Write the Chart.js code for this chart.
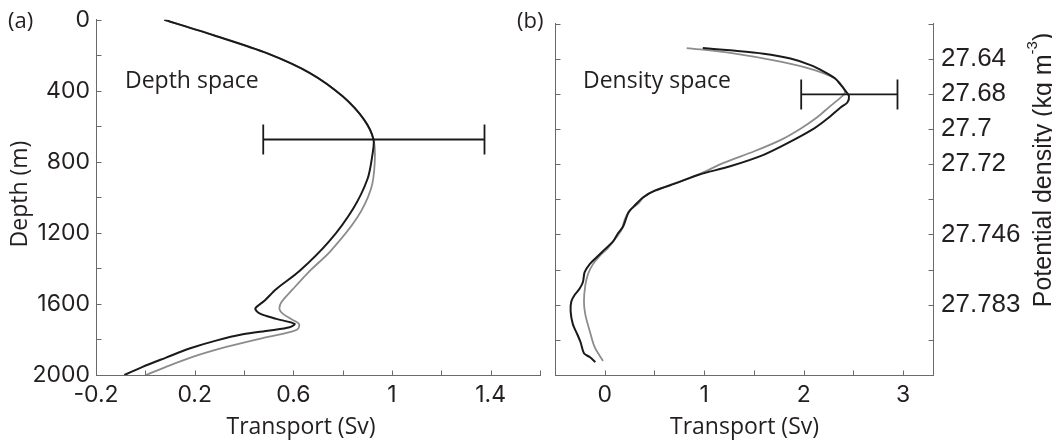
<!DOCTYPE html>
<html>
<head>
<meta charset="utf-8">
<script src="https://cdn.jsdelivr.net/npm/chart.js@4.4.1/dist/chart.umd.min.js"></script>
<style>
  html, body { margin: 0; padding: 0; background: #fff; }
  #wrap { position: relative; width: 1052px; height: 441px; overflow: hidden; }
  canvas { position: absolute; top: 0; }
  #cA { left: 0; }
  #cB { left: 505px; }
</style>
</head>
<body>
<div id="wrap">
  <canvas id="cA" width="548" height="441"></canvas>
  <canvas id="cB" width="547" height="441"></canvas>
</div>
<script>
// ---- (a) transport against depth (m) ----
const depthBlackA = [0, 87, 189, 301, 431, 561, 674, 765, 895, 1062, 1248, 1415, 1517, 1582, 1625, 1653, 1684, 1712, 1731, 1749, 1771, 1805, 1851, 1902, 1954, 2000];
const transportBlackA = [0.077, 0.277, 0.495, 0.669, 0.80, 0.886, 0.925, 0.92, 0.901, 0.843, 0.745, 0.625, 0.53, 0.483, 0.446, 0.463, 0.531, 0.605, 0.585, 0.504, 0.395, 0.29, 0.179, 0.084, -0.011, -0.085];
const depthGrayA = [0, 87, 189, 301, 431, 561, 674, 802, 951, 1118, 1304, 1415, 1517, 1592, 1629, 1656, 1690, 1712, 1740, 1759, 1796, 1842, 1898, 1954, 2000];
const transportGrayA = [0.077, 0.277, 0.495, 0.669, 0.80, 0.886, 0.925, 0.93, 0.915, 0.857, 0.75, 0.666, 0.598, 0.551, 0.544, 0.558, 0.598, 0.623, 0.619, 0.585, 0.463, 0.328, 0.192, 0.084, 0.003];
const errDepthA = 674;
const errLowA = 0.478;
const errHighA = 1.375;

// ---- (b) transport against potential density (stretched density coordinate 0-2000) ----
const levelBlackB = [139, 152, 171, 199, 236, 273, 310, 347, 384, 412, 449, 477, 542, 598, 672, 747, 812, 860, 904, 951, 988, 1034, 1072, 1118, 1155, 1192, 1239, 1285, 1331, 1369, 1415, 1471, 1508, 1545, 1582, 1638, 1712, 1768, 1815, 1876, 1898, 1926];
const transportBlackB = [0.986, 1.261, 1.597, 1.867, 2.069, 2.203, 2.311, 2.371, 2.422, 2.455, 2.439, 2.371, 2.237, 2.102, 1.867, 1.597, 1.261, 0.945, 0.74, 0.505, 0.387, 0.303, 0.242, 0.209, 0.185, 0.135, 0.084, 0.0, -0.084, -0.151, -0.202, -0.219, -0.252, -0.303, -0.336, -0.343, -0.32, -0.276, -0.242, -0.209, -0.151, -0.094];
const levelGrayB = [139, 167, 217, 264, 310, 357, 394, 421, 468, 533, 598, 663, 728, 793, 860, 904, 951, 988, 1025, 1062, 1118, 1174, 1229, 1276, 1322, 1369, 1425, 1489, 1582, 1656, 1749, 1842, 1920];
const transportGrayB = [0.824, 1.261, 1.766, 2.102, 2.304, 2.389, 2.415, 2.371, 2.27, 2.136, 1.968, 1.766, 1.497, 1.194, 0.94, 0.73, 0.50, 0.39, 0.336, 0.252, 0.2, 0.168, 0.1, 0.034, -0.05, -0.118, -0.168, -0.195, -0.209, -0.195, -0.151, -0.101, -0.017];
const errLevelB = 403;
const errLowB = 1.975;
const errHighB = 2.943;

// ---- tick labels ----
const depthLabels = [0, 400, 800, 1200, 1600, 2000];
const transportLabelsA = [-0.2, 0.2, 0.6, 1, 1.4];
const transportLabelsB = [0, 1, 2, 3];
const densityTickLevels = [200, 400, 600, 800, 1200, 1600];
const densityTickLabels = ['27.64', '27.68', '27.7', '27.72', '27.746', '27.783'];

const BLACK = '#1a1a1a';
const GRAY = '#8c8c8c';
const AXIS = '#6a6a6a';
const TEXT = '#231f20';
const TITLE_FONT = '"Open Sans", "Noto Sans", sans-serif';
const TICK_FONT = 'Inter, "Liberation Sans", sans-serif';
const SIDE_FONT = '"Liberation Sans", Arial, sans-serif';

function toPoints(xs, ys) {
  return xs.map((x, i) => ({ x: x, y: ys[i] }));
}

function pickLabel(value, list) {
  const hit = list.find(t => Math.abs(t - value) < 1e-6);
  return hit === undefined ? '' : String(hit);
}

// short tick marks pointing into the plot area
function inwardTicks(specs) {
  return {
    id: 'inwardTicks',
    afterDraw(chart) {
      const ctx = chart.ctx;
      const area = chart.chartArea;
      ctx.save();
      ctx.strokeStyle = AXIS;
      ctx.lineWidth = 1;
      ctx.beginPath();
      specs.forEach(spec => {
        const scale = chart.scales[spec.id];
        scale.ticks.forEach(t => {
          const p = Math.round(scale.getPixelForValue(t.value)) + 0.5;
          if (spec.side === 'bottom') {
            const y = Math.round(area.bottom) + 0.5;
            ctx.moveTo(p, y); ctx.lineTo(p, y - 5);
          } else if (spec.side === 'left') {
            const x = Math.round(area.left) + 0.5;
            ctx.moveTo(x, p); ctx.lineTo(x + 5, p);
          } else {
            const x = Math.round(area.right) + 0.5;
            ctx.moveTo(x, p); ctx.lineTo(x - 5, p);
          }
        });
      });
      ctx.stroke();
      ctx.restore();
    }
  };
}

// horizontal error bar with end caps
function errorBar(level, low, high) {
  return {
    id: 'errorBar',
    afterDatasetsDraw(chart) {
      const ctx = chart.ctx;
      const xs = chart.scales.x, ys = chart.scales.y;
      const y = ys.getPixelForValue(level);
      const x1 = xs.getPixelForValue(low), x2 = xs.getPixelForValue(high);
      ctx.save();
      ctx.strokeStyle = BLACK;
      ctx.lineWidth = 1.8;
      ctx.beginPath();
      ctx.moveTo(x1, y); ctx.lineTo(x2, y);
      ctx.moveTo(x1, y - 15); ctx.lineTo(x1, y + 15);
      ctx.moveTo(x2, y - 15); ctx.lineTo(x2, y + 15);
      ctx.stroke();
      ctx.restore();
    }
  };
}

function annotations(drawFn) {
  return {
    id: 'annotations',
    afterDraw(chart) {
      const ctx = chart.ctx;
      ctx.save();
      ctx.fillStyle = TEXT;
      ctx.textBaseline = 'alphabetic';
      drawFn(ctx, chart);
      ctx.restore();
    }
  };
}

function lineSet(points, color, width) {
  return {
    data: points,
    borderColor: color,
    borderWidth: width,
    showLine: true,
    pointRadius: 0,
    tension: 0.3,
    fill: false
  };
}

const common = {
  responsive: false,
  animation: false,
  events: [],
  plugins: { legend: { display: false }, tooltip: { enabled: false } }
};

// ---- panel (a) ----
new Chart(document.getElementById('cA'), {
  type: 'scatter',
  data: {
    datasets: [
      lineSet(toPoints(transportBlackA, depthBlackA), BLACK, 2),
      lineSet(toPoints(transportGrayA, depthGrayA), GRAY, 1.8)
    ]
  },
  options: Object.assign({}, common, {
    layout: { padding: { left: 0, right: 8, top: 16, bottom: 0 } },
    scales: {
      x: {
        type: 'linear', position: 'bottom', min: -0.2, max: 1.6,
        grid: { display: false, drawTicks: false },
        border: { display: true, color: AXIS, width: 1 },
        ticks: {
          stepSize: 0.2, autoSkip: false, maxRotation: 0, padding: 6,
          color: TEXT, font: { family: TICK_FONT, size: 23 },
          callback: v => pickLabel(v, transportLabelsA)
        },
        afterFit: s => { s.height = 66; }
      },
      y: {
        type: 'linear', position: 'left', reverse: true, min: 0, max: 2000,
        grid: { display: false, drawTicks: false },
        border: { display: true, color: AXIS, width: 1 },
        ticks: {
          stepSize: 200, autoSkip: false, padding: 6,
          color: TEXT, font: { family: TICK_FONT, size: 23 },
          callback: v => pickLabel(v, depthLabels)
        },
        afterFit: s => { s.width = 96; }
      }
    }
  }),
  plugins: [
    inwardTicks([{ id: 'x', side: 'bottom' }, { id: 'y', side: 'left' }]),
    errorBar(errDepthA, errLowA, errHighA),
    annotations(ctx => {
      ctx.font = '22px ' + TITLE_FONT;
      ctx.textAlign = 'left';
      ctx.fillText('(a)', 8, 28);
      ctx.font = '23px ' + TITLE_FONT;
      ctx.fillText('Depth space', 125, 88);
      ctx.textAlign = 'center';
      ctx.fillText('Transport (Sv)', 301, 434);
      ctx.save();
      ctx.translate(27, 194);
      ctx.rotate(-Math.PI / 2);
      ctx.fillText('Depth (m)', 0, 0);
      ctx.restore();
    })
  ]
});

// ---- panel (b) ----
new Chart(document.getElementById('cB'), {
  type: 'scatter',
  data: {
    datasets: [
      lineSet(toPoints(transportBlackB, levelBlackB), BLACK, 2),
      lineSet(toPoints(transportGrayB, levelGrayB), GRAY, 1.8)
    ]
  },
  options: Object.assign({}, common, {
    layout: { padding: { left: 0, right: 0, top: 16, bottom: 0 } },
    scales: {
      x: {
        type: 'linear', position: 'bottom', min: -0.5, max: 3.3,
        grid: { display: false, drawTicks: false },
        border: { display: true, color: AXIS, width: 1 },
        ticks: {
          stepSize: 0.5, autoSkip: false, maxRotation: 0, padding: 6,
          includeBounds: false,
          color: TEXT, font: { family: TICK_FONT, size: 23 },
          callback: v => pickLabel(v, transportLabelsB)
        },
        afterFit: s => { s.height = 66; }
      },
      y: {
        type: 'linear', position: 'left', reverse: true, min: 0, max: 2000,
        grid: { display: false, drawTicks: false },
        border: { display: true, color: AXIS, width: 1 },
        ticks: { stepSize: 200, display: false },
        afterFit: s => { s.width = 50; }
      },
      y2: {
        type: 'linear', position: 'right', reverse: true, min: 0, max: 2000,
        grid: { display: false, drawTicks: false },
        border: { display: true, color: AXIS, width: 1 },
        ticks: {
          stepSize: 200, autoSkip: false, padding: 8,
          color: TEXT, font: { family: SIDE_FONT, size: 26 },
          callback: v => {
            const i = densityTickLevels.indexOf(Math.round(v));
            return i >= 0 ? densityTickLabels[i] : '';
          }
        },
        afterFit: s => { s.width = 119; }
      }
    }
  }),
  plugins: [
    inwardTicks([{ id: 'x', side: 'bottom' }, { id: 'y', side: 'left' }, { id: 'y2', side: 'right' }]),
    errorBar(errLevelB, errLowB, errHighB),
    annotations(ctx => {
      ctx.font = '22px ' + TITLE_FONT;
      ctx.textAlign = 'left';
      ctx.fillText('(b)', 12, 28);
      ctx.font = '23px ' + TITLE_FONT;
      ctx.fillText('Density space', 78, 88);
      ctx.textAlign = 'center';
      ctx.fillText('Transport (Sv)', 239.5, 434);
      // rotated density title with superscript unit
      ctx.save();
      ctx.translate(546, 170);
      ctx.rotate(-Math.PI / 2);
      ctx.textAlign = 'left';
      const main = 'Potential density (kg m';
      const sup = '-3';
      const close = ')';
      ctx.font = '25px ' + SIDE_FONT;
      const w1 = ctx.measureText(main).width;
      const w3 = ctx.measureText(close).width;
      ctx.font = '15px ' + SIDE_FONT;
      const w2 = ctx.measureText(sup).width;
      const x0 = -(w1 + w2 + w3) / 2;
      ctx.font = '25px ' + SIDE_FONT;
      ctx.fillText(main, x0, 0);
      ctx.fillText(close, x0 + w1 + w2, 0);
      ctx.font = '15px ' + SIDE_FONT;
      ctx.fillText(sup, x0 + w1, -14);
      ctx.restore();
    })
  ]
});
</script>
</body>
</html>
